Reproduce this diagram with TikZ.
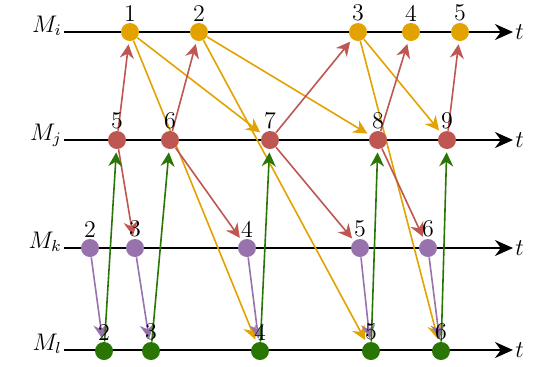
\documentclass[tikz,border=0pt]{standalone}
\usepackage{amsmath}
\usepackage{xcolor}
\usepackage{tikz}
\usetikzlibrary{arrows.meta, positioning, backgrounds}

\definecolor{colI}{RGB}{226,162,0}
\definecolor{colJ}{RGB}{190,86,82}
\definecolor{colK}{RGB}{152,114,172}
\definecolor{colL}{RGB}{42,118,4}

\tikzset{
    dot/.style={circle, fill=#1, inner sep=0pt, minimum size=9pt},
    proc/.style={anchor=base east, inner sep=1pt, font=\large},
    tlab/.style={anchor=west, inner sep=1pt, font=\large},
    axis/.style={line width=1pt, -{Stealth[length=9pt, width=8pt]}},
    msg/.style={draw=#1, line width=0.8pt, -{Stealth[length=7pt, width=7pt]}, shorten >=1.5pt},
    every label/.style={font=\large, inner sep=0.5pt, label distance=0pt}
}

\begin{document}
\begin{tikzpicture}[x=5pt, y=-5pt]
    \useasboundingbox (0,0) rectangle (53.8,36.6);

    % processes
    \node[proc] (Mi) at (6.4, 3.2) {$M_i$};
    \node[proc] (Mj) at (6.4, 14.0) {$M_j$};
    \node[proc] (Mk) at (6.4, 24.8) {$M_k$};
    \node[proc] (Ml) at (6.4, 35.0) {$M_l$};
    \node[tlab] (ti) at (51.3, 3.2) {$t$};
    \node[tlab] (tj) at (51.3, 14.0) {$t$};
    \node[tlab] (tk) at (51.3, 24.8) {$t$};
    \node[tlab] (tl) at (51.3, 35.0) {$t$};

    % events on M_i
    \node[dot=colI, label=above:1] (i1) at (13.0, 3.2) {};
    \node[dot=colI, label=above:2] (i2) at (19.9, 3.2) {};
    \node[dot=colI, label=above:3] (i3) at (35.8, 3.2) {};
    \node[dot=colI, label=above:4] (i4) at (41.1, 3.2) {};
    \node[dot=colI, label=above:5] (i5) at (46.0, 3.2) {};

    % events on M_j
    \node[dot=colJ, label=above:5] (j5) at (11.7, 14.0) {};
    \node[dot=colJ, label=above:6] (j6) at (17.0, 14.0) {};
    \node[dot=colJ, label=above:7] (j7) at (27.0, 14.0) {};
    \node[dot=colJ, label=above:8] (j8) at (37.8, 14.0) {};
    \node[dot=colJ, label=above:9] (j9) at (44.7, 14.0) {};

    % events on M_k
    \node[dot=colK, label=above:2] (k2) at (9.0, 24.8) {};
    \node[dot=colK, label=above:3] (k3) at (13.5, 24.8) {};
    \node[dot=colK, label=above:4] (k4) at (24.7, 24.8) {};
    \node[dot=colK, label=above:5] (k5) at (36.0, 24.8) {};
    \node[dot=colK, label=above:6] (k6) at (42.8, 24.8) {};

    % events on M_l
    \node[dot=colL, label=above:2] (l2) at (10.4, 35.1) {};
    \node[dot=colL, label=above:3] (l3) at (15.1, 35.1) {};
    \node[dot=colL, label=above:4] (l4) at (26.0, 35.1) {};
    \node[dot=colL, label=above:5] (l5) at (37.1, 35.1) {};
    \node[dot=colL, label=above:6] (l6) at (44.1, 35.1) {};

    \begin{scope}[on background layer]
        \draw[axis] (Mi.base east) -- (ti.west |- Mi.base east);
        \draw[axis] (Mj.base east) -- (tj.west |- Mj.base east);
        \draw[axis] (Mk.base east) -- (tk.west |- Mk.base east);
        \draw[axis] (Ml.base east) -- (tl.west |- Ml.base east);

        % M_i -> M_j, M_l
        \draw[msg=colI] (i1) -- (j7);
        \draw[msg=colI] (i1) -- (l4);
        \draw[msg=colI] (i2) -- (j8);
        \draw[msg=colI] (i2) -- (l5);
        \draw[msg=colI] (i3) -- (j9);
        \draw[msg=colI] (i3) -- (l6);

        % M_j -> M_i, M_k
        \draw[msg=colJ] (j5) -- (i1);
        \draw[msg=colJ] (j6) -- (i2);
        \draw[msg=colJ] (j7) -- (i3);
        \draw[msg=colJ] (j8) -- (i4);
        \draw[msg=colJ] (j9) -- (i5);
        \draw[msg=colJ] (j5) -- (k3);
        \draw[msg=colJ] (j6) -- (k4);
        \draw[msg=colJ] (j7) -- (k5);
        \draw[msg=colJ] (j8) -- (k6);

        % M_k -> M_l
        \draw[msg=colK] (k2) -- (l2);
        \draw[msg=colK] (k3) -- (l3);
        \draw[msg=colK] (k4) -- (l4);
        \draw[msg=colK] (k5) -- (l5);
        \draw[msg=colK] (k6) -- (l6);

        % M_l -> M_j
        \draw[msg=colL] (l2) -- (j5);
        \draw[msg=colL] (l3) -- (j6);
        \draw[msg=colL] (l4) -- (j7);
        \draw[msg=colL] (l5) -- (j8);
        \draw[msg=colL] (l6) -- (j9);
    \end{scope}
\end{tikzpicture}
\end{document}
